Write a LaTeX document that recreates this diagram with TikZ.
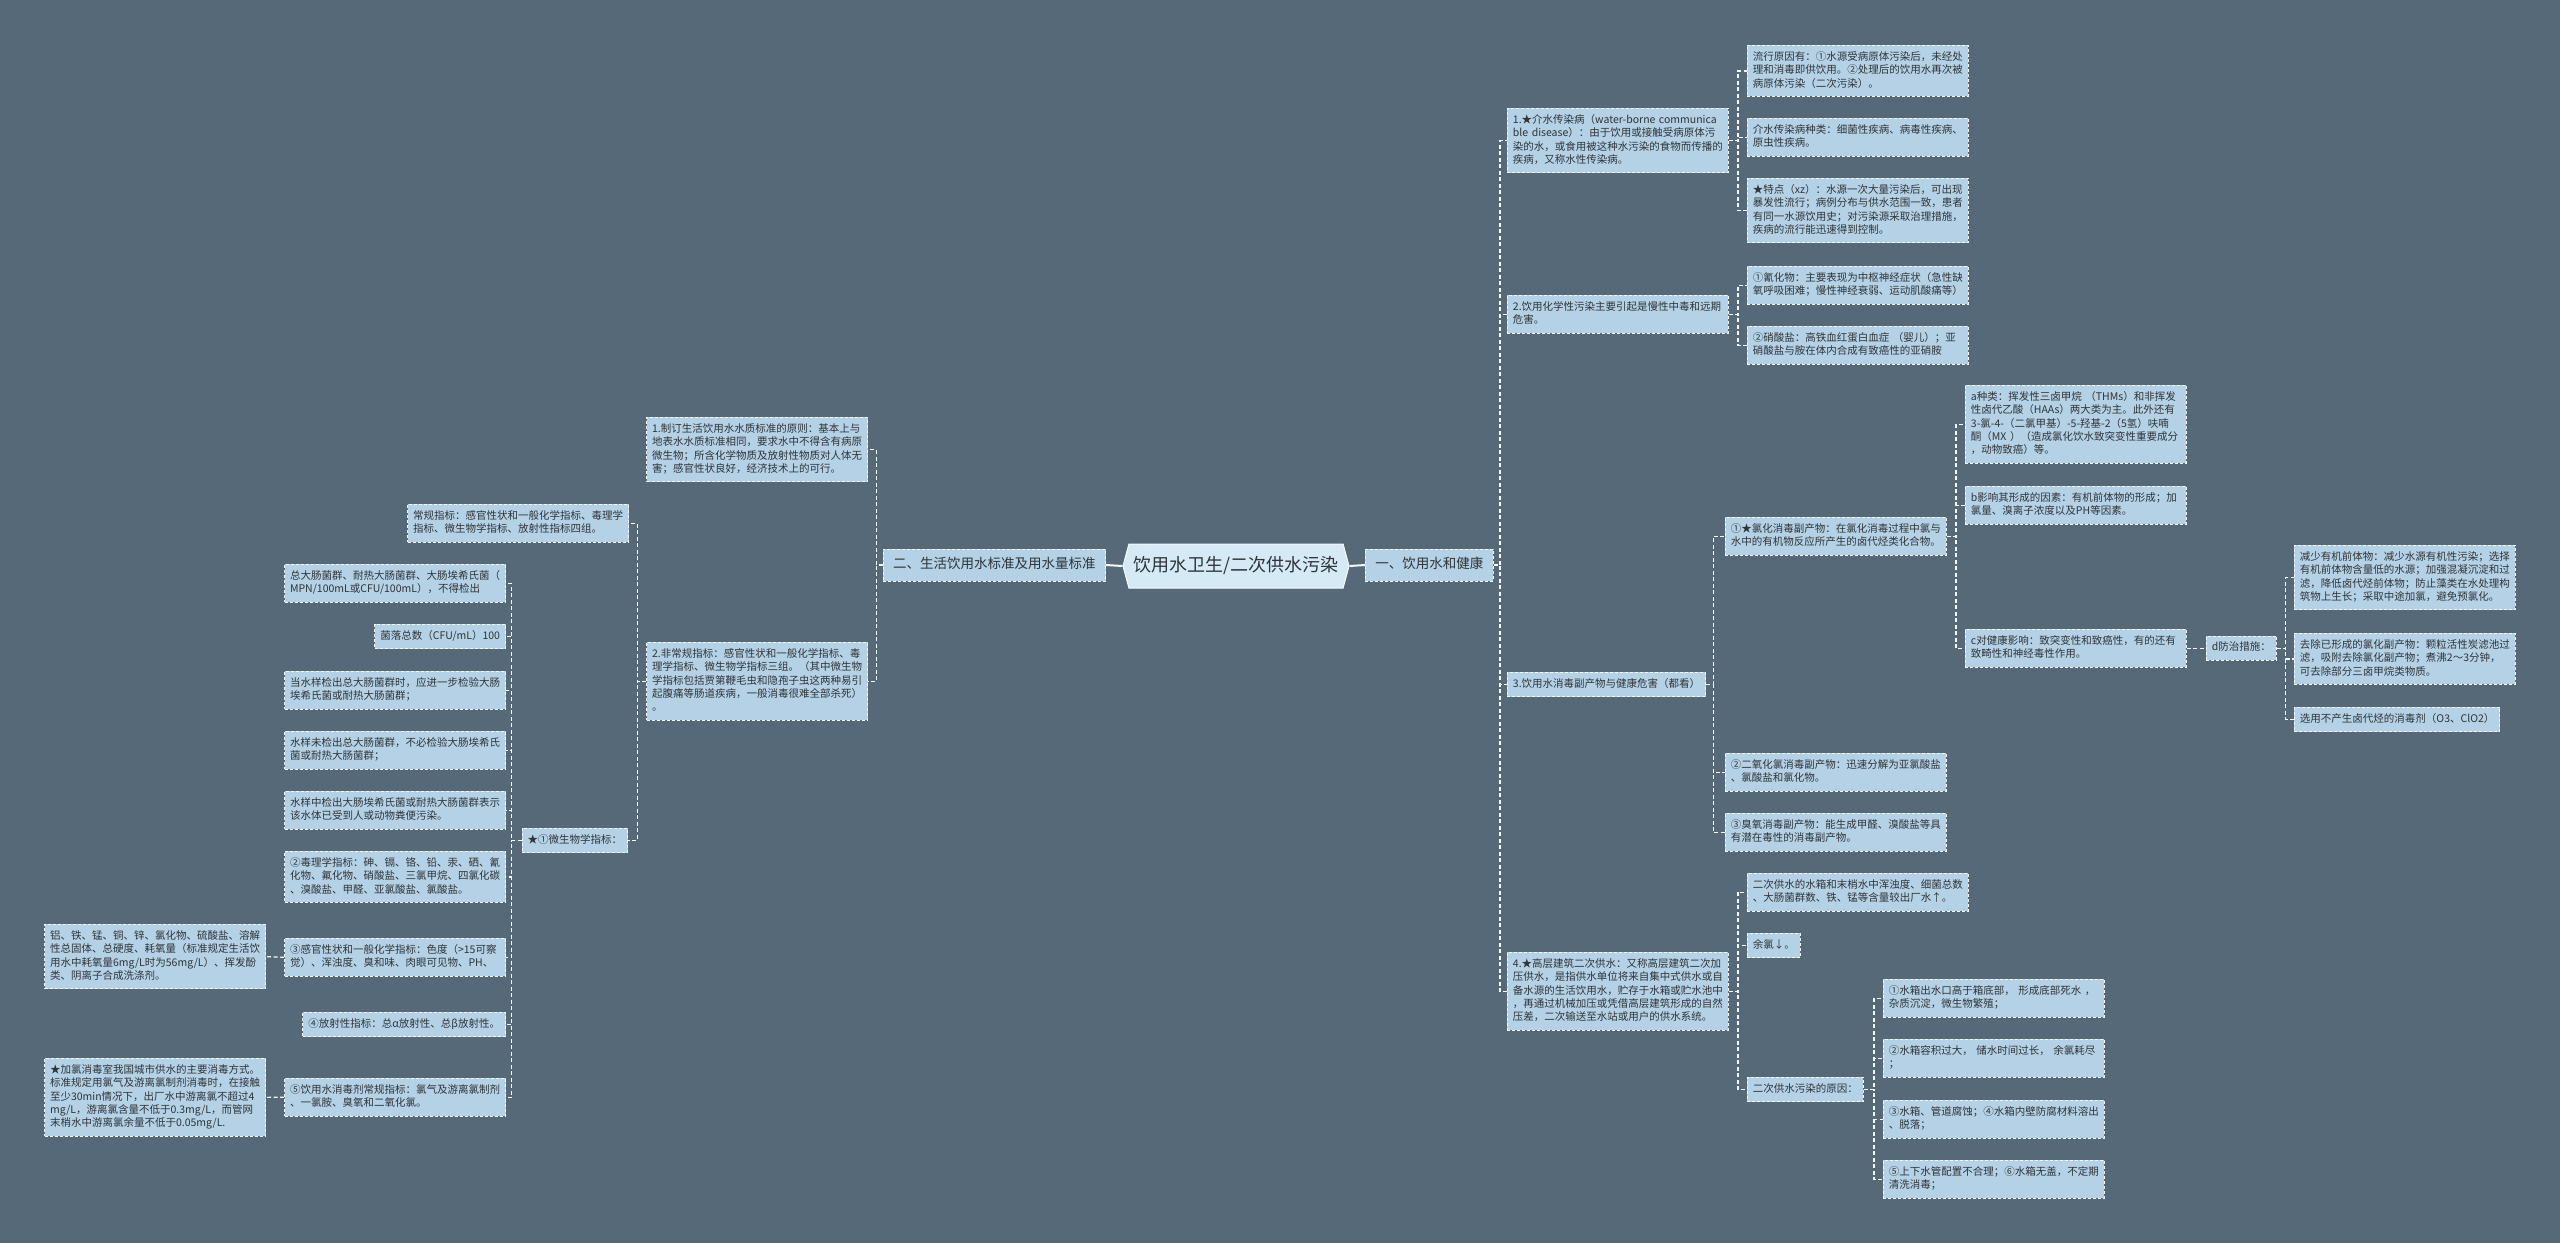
\documentclass[tikz,border=0pt]{standalone}
\usepackage{fontspec}
\setmainfont{Noto Sans CJK SC}
\usetikzlibrary{shapes.symbols}

\definecolor{slate}{RGB}{85,105,121}
\definecolor{leafblue}{RGB}{181,209,229}
\definecolor{rootblue}{RGB}{214,234,246}
\definecolor{ink}{RGB}{45,52,58}

\newcommand\keepline{\hyphenpenalty 10000 \exhyphenpenalty 10000 \strut}

\tikzset{every picture/.style={line width=0.75pt}}
\tikzset{
  leaf/.style={draw=white!85!leafblue, dash pattern=on 3pt off 2pt, fill=leafblue, text=ink,
    font=\fontsize{10.5}{13.4}\selectfont, align=left, inner xsep=5.5pt, inner ysep=5.4pt,
    line width=0.9pt, execute at begin node=\keepline, execute at end node=\strut},
  wide/.style={leaf, text width=210pt},
  branch/.style={leaf, font=\fontsize{13.5}{17}\selectfont, inner xsep=10pt, inner ysep=7.5pt},
  rootbox/.style={signal, signal to=west and east, signal pointer angle=150, draw=white!75!rootblue,
    fill=rootblue, text=ink, font=\fontsize{18}{22}\selectfont, minimum width=226pt,
    minimum height=44pt, inner xsep=4pt, line width=1pt},
  link/.style={draw=white!88!leafblue, dash pattern=on 4pt off 2.5pt, line width=1.2pt},
  stem/.style={draw=white!88!leafblue, line width=2pt}
}

\begin{document}
\begin{tikzpicture}[x=1pt,y=1pt,yscale=-1]
\fill [slate] (0,0) rectangle (2560,1243);
\useasboundingbox (0,0) rectangle (2560,1243);

% Root and main branches
\node [rootbox] (root) at (1236,566) {饮用水卫生/二次供水污染};
\node [branch, anchor=east] (stdq) at (1106,565) {二、生活饮用水标准及用水量标准};
\node [branch, anchor=west] (health) at (1365,565) {一、饮用水和健康};

% Text Node -- right side
\node [wide, anchor=north west] (infect) at (1507,108) {1.★介水传染病（water-borne~communica\\ble~disease）：由于饮用或接触受病原体污\\染的水，或食用被这种水污染的食物而传播的\\疾病，又称水性传染病。};
\node [wide, anchor=north west] (chem) at (1507,295) {2.饮用化学性污染主要引起是慢性中毒和远期\\危害。};
\node [leaf, anchor=north west] (byprod) at (1507,672) {3.饮用水消毒副产物与健康危害（都看）};
\node [wide, anchor=north west] (supply) at (1507,952) {4.★高层建筑二次供水：又称高层建筑二次加\\压供水，是指供水单位将来自集中式供水或自\\备水源的生活饮用水，贮存于水箱或贮水池中\\，再通过机械加压或凭借高层建筑形成的自然\\压差，二次输送至水站或用户的供水系统。};

% Text Node
\node [wide, anchor=north west] (cause) at (1747,45) {流行原因有：①水源受病原体污染后，未经处\\理和消毒即供饮用。②处理后的饮用水再次被\\病原体污染（二次污染）。};
\node [wide, anchor=north west] (kinds) at (1747,118) {介水传染病种类：细菌性疾病、病毒性疾病、\\原虫性疾病。};
\node [wide, anchor=north west] (feature) at (1747,178) {★特点（xz）：水源一次大量污染后，可出现\\暴发性流行；病例分布与供水范围一致，患者\\有同一水源饮用史；对污染源采取治理措施，\\疾病的流行能迅速得到控制。};
\node [wide, anchor=north west] (cyan) at (1747,266) {①氰化物：主要表现为中枢神经症状（急性缺\\氧呼吸困难；慢性神经衰弱、运动肌酸痛等）};
\node [wide, anchor=north west] (nitrate) at (1747,326) {②硝酸盐：高铁血红蛋白血症~（婴儿）；亚\\硝酸盐与胺在体内合成有致癌性的亚硝胺};

% Text Node
\node [wide, anchor=north west] (chlor) at (1725,517) {①★氯化消毒副产物：在氯化消毒过程中氯与\\水中的有机物反应所产生的卤代烃类化合物。};
\node [wide, anchor=north west] (clo2) at (1725,753) {②二氧化氯消毒副产物：迅速分解为亚氯酸盐\\、氯酸盐和氯化物。};
\node [wide, anchor=north west] (ozone) at (1725,813) {③臭氧消毒副产物：能生成甲醛、溴酸盐等具\\有潜在毒性的消毒副产物。};
\node [wide, anchor=north west] (kinda) at (1965,385) {a种类：挥发性三卤甲烷~（THMs）和非挥发\\性卤代乙酸（HAAs）两大类为主。此外还有\\3-氯-4-（二氯甲基）-5-羟基-2（5氢）呋喃\\酮（MX~）（造成氯化饮水致突变性重要成分\\，动物致癌）等。};
\node [wide, anchor=north west] (factb) at (1965,486) {b影响其形成的因素：有机前体物的形成；加\\氯量、溴离子浓度以及PH等因素。};
\node [wide, anchor=north west] (effc) at (1965,629) {c对健康影响：致突变性和致癌性，有的还有\\致畸性和神经毒性作用。};
\node [leaf, anchor=west] (prevd) at ([xshift=19pt]effc.east) {d防治措施：};
\node [wide, anchor=north west] (reduce) at (2294,545) {减少有机前体物：减少水源有机性污染；选择\\有机前体物含量低的水源；加强混凝沉淀和过\\滤，降低卤代烃前体物；防止藻类在水处理构\\筑物上生长；采取中途加氯，避免预氯化。};
\node [wide, anchor=north west] (remove) at (2294,633) {去除已形成的氯化副产物：颗粒活性炭滤池过\\滤，吸附去除氯化副产物；煮沸2～3分钟，\\可去除部分三卤甲烷类物质。};
\node [leaf, anchor=north west] (choose) at (2294,707) {选用不产生卤代烃的消毒剂（O3、ClO2）};

% Text Node
\node [wide, anchor=north west] (tank) at (1747,873) {二次供水的水箱和末梢水中浑浊度、细菌总数\\、大肠菌群数、铁、锰等含量较出厂水↑。};
\node [leaf, anchor=north west] (resid) at (1747,933) {余氯↓。};
\node [leaf, anchor=north west] (reason) at (1747,1077) {二次供水污染的原因：};
\node [wide, anchor=north west] (why1) at (1883,979) {①水箱出水口高于箱底部，~形成底部死水~，\\杂质沉淀，微生物繁殖；};
\node [wide, anchor=north west] (why2) at (1883,1039) {②水箱容积过大，~储水时间过长，~余氯耗尽\\；};
\node [wide, anchor=north west] (why3) at (1883,1100) {③水箱、管道腐蚀；④水箱内壁防腐材料溶出\\、脱落；};
\node [wide, anchor=north west] (why4) at (1883,1160) {⑤上下水管配置不合理；⑥水箱无盖，不定期\\清洗消毒；};

% Text Node -- left side
\node [wide, anchor=north east] (principle) at (868,417) {1.制订生活饮用水水质标准的原则：基本上与\\地表水水质标准相同，要求水中不得含有病原\\微生物；所含化学物质及放射性物质对人体无\\害；感官性状良好，经济技术上的可行。};
\node [wide, anchor=north east] (nonroutine) at (868,642) {2.非常规指标：感官性状和一般化学指标、毒\\理学指标、微生物学指标三组。（其中微生物\\学指标包括贾第鞭毛虫和隐孢子虫这两种易引\\起腹痛等肠道疾病，一般消毒很难全部杀死）\\。};
\node [wide, anchor=north east] (routine) at (629,504) {常规指标：感官性状和一般化学指标、毒理学\\指标、微生物学指标、放射性指标四组。};
\node [leaf, anchor=north east] (micro) at (628,828) {★①微生物学指标：};

% Text Node
\node [wide, anchor=north east] (coli) at (506,564) {总大肠菌群、耐热大肠菌群、大肠埃希氏菌（\\MPN/100mL或CFU/100mL），不得检出};
\node [leaf, anchor=north east] (colony) at (506,624) {菌落总数（CFU/mL）100};
\node [wide, anchor=north east] (check) at (506,671) {当水样检出总大肠菌群时，应进一步检验大肠\\埃希氏菌或耐热大肠菌群；};
\node [wide, anchor=north east] (nocheck) at (506,731) {水样未检出总大肠菌群，不必检验大肠埃希氏\\菌或耐热大肠菌群；};
\node [wide, anchor=north east] (found) at (506,791) {水样中检出大肠埃希氏菌或耐热大肠菌群表示\\该水体已受到人或动物粪便污染。};
\node [wide, anchor=north east] (toxic) at (506,851) {②毒理学指标：砷、镉、铬、铅、汞、硒、氰\\化物、氟化物、硝酸盐、三氯甲烷、四氯化碳\\、溴酸盐、甲醛、亚氯酸盐、氯酸盐。};
\node [wide, anchor=north east] (sense) at (506,938) {③感官性状和一般化学指标：色度（>15可察\\觉）、浑浊度、臭和味、肉眼可见物、PH、};
\node [leaf, anchor=north east] (radio) at (506,1012) {④放射性指标：总α放射性、总β放射性。};
\node [wide, anchor=north east] (disinf) at (506,1078) {⑤饮用水消毒剂常规指标：氯气及游离氯制剂\\、一氯胺、臭氧和二氧化氯。};
\node [wide, anchor=north east] (metals) at (266,924) {铝、铁、锰、铜、锌、氯化物、硫酸盐、溶解\\性总固体、总硬度、耗氧量（标准规定生活饮\\用水中耗氧量6mg/L时为56mg/L）、挥发酚\\类、阴离子合成洗涤剂。};
\node [wide, anchor=north east] (chlorine) at (266,1058) {★加氯消毒室我国城市供水的主要消毒方式。\\标准规定用氯气及游离氯制剂消毒时，在接触\\至少30min情况下，出厂水中游离氯不超过4\\mg/L，游离氯含量不低于0.3mg/L，而管网\\末梢水中游离氯余量不低于0.05mg/L.};

%Straight Lines -- root
\draw [stem] (root.west) -- (stdq.east);
\draw [stem] (root.east) -- (health.west);

%Straight Lines -- right branches
\draw [link] (health.east) -- ++(6,0) |- (infect.west);
\draw [link] (health.east) -- ++(6,0) |- (chem.west);
\draw [link] (health.east) -- ++(6,0) |- (byprod.west);
\draw [link] (health.east) -- ++(6,0) |- (supply.west);
\draw [link] (infect.east) -- ++(9,0) |- (cause.west);
\draw [link] (infect.east) -- ++(9,0) |- (kinds.west);
\draw [link] (infect.east) -- ++(9,0) |- (feature.west);
\draw [link] (chem.east) -- ++(9,0) |- (cyan.west);
\draw [link] (chem.east) -- ++(9,0) |- (nitrate.west);
\draw [link] (byprod.east) -- ++(7,0) |- (chlor.west);
\draw [link] (byprod.east) -- ++(7,0) |- (clo2.west);
\draw [link] (byprod.east) -- ++(7,0) |- (ozone.west);
\draw [link] (chlor.east) -- ++(9,0) |- (kinda.west);
\draw [link] (chlor.east) -- ++(9,0) |- (factb.west);
\draw [link] (chlor.east) -- ++(9,0) |- (effc.west);
\draw [link] (effc.east) -- (prevd.west);
\draw [link] (prevd.east) -- ++(9,0) |- (reduce.west);
\draw [link] (prevd.east) -- ++(9,0) |- (remove.west);
\draw [link] (prevd.east) -- ++(9,0) |- (choose.west);
\draw [link] (supply.east) -- ++(9,0) |- (tank.west);
\draw [link] (supply.east) -- ++(9,0) |- (resid.west);
\draw [link] (supply.east) -- ++(9,0) |- (reason.west);
\draw [link] (reason.east) -- ++(10,0) |- (why1.west);
\draw [link] (reason.east) -- ++(10,0) |- (why2.west);
\draw [link] (reason.east) -- ++(10,0) |- (why3.west);
\draw [link] (reason.east) -- ++(10,0) |- (why4.west);

%Straight Lines -- left branches
\draw [link] (stdq.west) -- ++(-6,0) |- (principle.east);
\draw [link] (stdq.west) -- ++(-6,0) |- (nonroutine.east);
\draw [link] (nonroutine.west) -- ++(-9,0) |- (routine.east);
\draw [link] (nonroutine.west) -- ++(-9,0) |- (micro.east);
\draw [link] (micro.west) -- ++(-10,0) |- (coli.east);
\draw [link] (micro.west) -- ++(-10,0) |- (colony.east);
\draw [link] (micro.west) -- ++(-10,0) |- (check.east);
\draw [link] (micro.west) -- ++(-10,0) |- (nocheck.east);
\draw [link] (micro.west) -- ++(-10,0) |- (found.east);
\draw [link] (micro.west) -- ++(-10,0) |- (toxic.east);
\draw [link] (micro.west) -- ++(-10,0) |- (sense.east);
\draw [link] (micro.west) -- ++(-10,0) |- (radio.east);
\draw [link] (micro.west) -- ++(-10,0) |- (disinf.east);
\draw [link] (sense.west) -- (metals.east);
\draw [link] (disinf.west) -- (chlorine.east);

\end{tikzpicture}
\end{document}
